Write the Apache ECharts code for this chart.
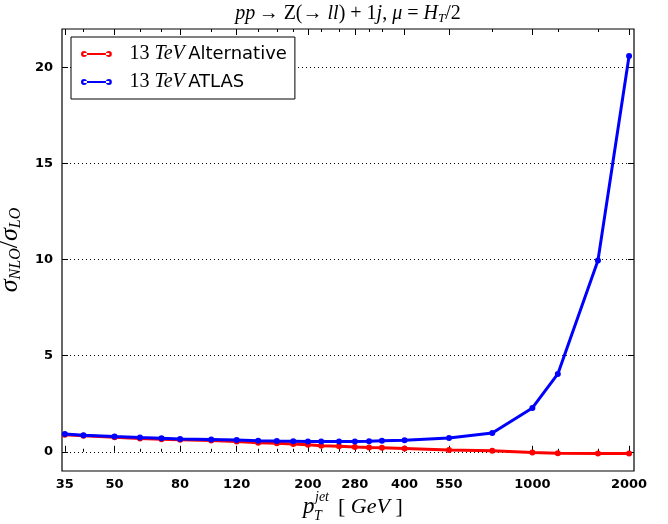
<!DOCTYPE html>
<html><head><meta charset="utf-8">
<script src="https://cdn.jsdelivr.net/npm/echarts@6/dist/echarts.min.js"></script>
<style>html,body{margin:0;padding:0;background:#fff}#c{width:668px;height:524px}</style>
</head><body><div id="c"></div>
<script>
const ptJet = [35, 40, 50, 60, 70, 80, 100, 120, 140, 160, 180, 200, 220, 250, 280, 310, 340, 400, 550, 750, 1000, 1200, 1600, 2000];
const atlas = [0.93, 0.86, 0.79, 0.74, 0.71, 0.67, 0.64, 0.61, 0.58, 0.56, 0.55, 0.53, 0.53, 0.53, 0.54, 0.55, 0.57, 0.60, 0.72, 0.98, 2.28, 4.05, 9.95, 20.6];
const alternative = [0.89, 0.83, 0.75, 0.69, 0.65, 0.62, 0.59, 0.53, 0.47, 0.44, 0.40, 0.37, 0.32, 0.29, 0.25, 0.22, 0.21, 0.17, 0.09, 0.05, -0.04, -0.07, -0.09, -0.09];
const xTickLabels = [35, 50, 80, 120, 200, 280, 400, 550, 1000, 2000];
const xMinorTicks = [40, 60, 70, 100, 140, 160, 180, 220, 250, 310, 340, 750, 1200, 1600];
const yTicks = [0, 5, 10, 15, 20];

const SERIF = '"Liberation Serif", "DejaVu Serif", serif';
const SANS = '"DejaVu Sans", sans-serif';

const chart = echarts.init(document.getElementById('c'), null, {renderer: 'canvas'});

function xAxisDef(pos, ticks, len, showLabel) {
  return {
    type: 'log', gridIndex: 0, position: pos, min: 34.3, max: 2072, logBase: 10,
    axisLine: {show: false},
    axisTick: {show: true, inside: true, length: len, customValues: ticks, lineStyle: {color: '#000', width: 1}},
    axisLabel: showLabel ? {show: true, customValues: ticks, color: '#000', fontFamily: SANS, fontWeight: 'bold', fontSize: 13, margin: 7,
      formatter: v => String(Math.round(v))} : {show: false},
    splitLine: {show: false}, minorTick: {show: false}, minorSplitLine: {show: false}
  };
}
function yAxisDef(pos, showLabel) {
  return {
    type: 'value', gridIndex: 0, position: pos, min: -1, max: 22,
    axisLine: {show: false},
    axisTick: {show: true, inside: true, length: 6, customValues: yTicks, lineStyle: {color: '#000', width: 1}},
    axisLabel: showLabel ? {show: true, customValues: yTicks, color: '#000', fontFamily: SANS, fontWeight: 'bold', fontSize: 13, margin: 9} : {show: false},
    splitLine: showLabel ? {show: true, lineStyle: {color: '#000', width: 1, type: [1, 3]}} : {show: false},
    name: showLabel ? '{s|σ}{b|NLO}{r|/}{s|σ}{b|LO}' : '',
    nameLocation: 'middle', nameRotate: 90, nameGap: 34,
    nameTextStyle: {
      rich: {
        s: {fontFamily: SERIF, fontStyle: 'italic', fontSize: 26, lineHeight: 28, color: '#000'},
        r: {fontFamily: SERIF, fontSize: 26, lineHeight: 28, color: '#000'},
        b: {fontFamily: SERIF, fontStyle: 'italic', fontSize: 16, lineHeight: 16, verticalAlign: 'bottom', color: '#000'}
      }
    }
  };
}

const legendIcon = 'path://M3,2.3H33V4.7H3Z M0,3.5A3.5,3.5 0 1,0 7,3.5A3.5,3.5 0 1,0 0,3.5Z M29,3.5A3.5,3.5 0 1,0 36,3.5A3.5,3.5 0 1,0 29,3.5Z';

const option = {
  animation: false,
  backgroundColor: '#fff',
  grid: {left: 62, right: 34, top: 29, bottom: 53, show: true, borderColor: '#000', borderWidth: 1.2,
    backgroundColor: 'transparent', containLabel: false, outerBoundsMode: 'none'},
  xAxis: [
    xAxisDef('bottom', xTickLabels, 6, true),
    xAxisDef('bottom', xMinorTicks, 3, false),
    xAxisDef('top', xTickLabels, 6, false),
    xAxisDef('top', xMinorTicks, 3, false)
  ],
  yAxis: [yAxisDef('left', true), yAxisDef('right', false)],
  legend: {
    orient: 'vertical', left: 71, top: 37,
    backgroundColor: '#fff', borderColor: '#000', borderWidth: 1, borderRadius: 0,
    padding: [7, 8, 7, 10], itemGap: 8, itemWidth: 32, itemHeight: 6,
    icon: legendIcon,
    data: ['13 TeV Alternative', '13 TeV ATLAS'],
    formatter: name => {
      const rest = name.replace('13 TeV ', '');
      return '{n|13 }{i|TeV} {s|' + rest + '}';
    },
    textStyle: {
      padding: [0, 0, 0, 12],
      rich: {
        n: {fontFamily: SERIF, fontSize: 20, color: '#000', lineHeight: 20},
        i: {fontFamily: SERIF, fontStyle: 'italic', fontSize: 20, color: '#000', lineHeight: 20},
        s: {fontFamily: SANS, fontSize: 18, color: '#000', lineHeight: 20}
      }
    }
  },
  graphic: [
    {
      type: 'text', x: 348, y: 14,
      style: {
        text: '{i|pp} {r|→ Z(→ }{i|ll}{r|) + 1}{i|j}{r|, }{i|μ}{r| = }{i|H}{b|T}{r|/2}',
        align: 'center', verticalAlign: 'middle',
        rich: {
          i: {fontFamily: SERIF, fontStyle: 'italic', fontSize: 20, lineHeight: 22, fill: '#000'},
          r: {fontFamily: SERIF, fontSize: 20, lineHeight: 22, fill: '#000'},
          b: {fontFamily: SERIF, fontStyle: 'italic', fontSize: 13, lineHeight: 12, verticalAlign: 'bottom', fill: '#000'}
        }
      }
    },
    {type: 'text', x: 303, y: 507, style: {text: 'p', font: 'italic 23px ' + SERIF, fill: '#000', align: 'left', verticalAlign: 'middle'}},
    {type: 'text', x: 315, y: 497, style: {text: 'jet', font: 'italic 14px ' + SERIF, fill: '#000', align: 'left', verticalAlign: 'middle'}},
    {type: 'text', x: 314, y: 516, style: {text: 'T', font: 'italic 14px ' + SERIF, fill: '#000', align: 'left', verticalAlign: 'middle'}},
    {
      type: 'text', x: 338, y: 507,
      style: {
        text: '{r|[ }{i|GeV}{r| ]}', align: 'left', verticalAlign: 'middle',
        rich: {
          r: {fontFamily: SERIF, fontSize: 22, fill: '#000'},
          i: {fontFamily: SERIF, fontStyle: 'italic', fontSize: 22, fill: '#000'}
        }
      }
    }
  ],
  series: [
    {
      name: '13 TeV Alternative', type: 'line', xAxisIndex: 0, yAxisIndex: 0,
      data: ptJet.map((x, i) => [x, alternative[i]]),
      symbol: 'circle', symbolSize: 6, showSymbol: true,
      itemStyle: {color: '#ff0000'}, lineStyle: {color: '#ff0000', width: 3}, z: 3
    },
    {
      name: '13 TeV ATLAS', type: 'line', xAxisIndex: 0, yAxisIndex: 0,
      data: ptJet.map((x, i) => [x, atlas[i]]),
      symbol: 'circle', symbolSize: 6, showSymbol: true,
      itemStyle: {color: '#0000ff'}, lineStyle: {color: '#0000ff', width: 3}, z: 4
    }
  ]
};
chart.setOption(option);
</script>
</body></html>
